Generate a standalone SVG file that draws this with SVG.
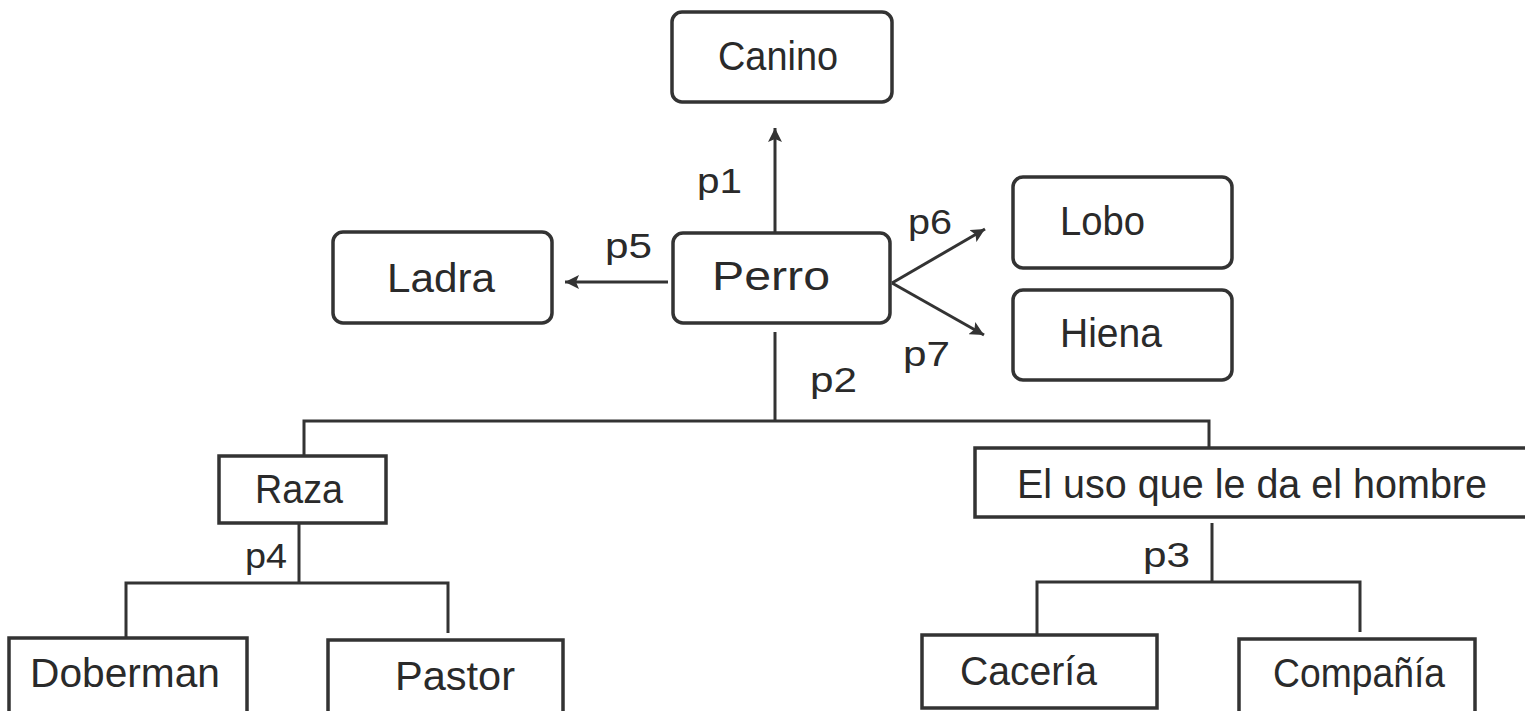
<svg xmlns="http://www.w3.org/2000/svg" width="1525" height="711" viewBox="0 0 1525 711">
<style>
.box{fill:#fff;stroke:#333;stroke-width:3.5}
.t{font-family:"Liberation Sans",Arial,sans-serif;font-size:40px;fill:#2a2a2a}
.lbl{font-family:"Liberation Sans",Arial,sans-serif;font-size:35px;fill:#2a2a2a}
.c{fill:none;stroke:#333;stroke-width:3}
</style>
<defs>
<marker id="ah" viewBox="0 0 14 14" refX="14" refY="7" markerWidth="14" markerHeight="14" markerUnits="userSpaceOnUse" orient="auto">
<path d="M0,0 L14,7 L0,14 L3,7 z" fill="#333"/>
</marker>
</defs>
<rect width="1525" height="711" fill="#fff"/>
<g id="connectors">
<line class="c" x1="775" y1="233" x2="775" y2="128" marker-end="url(#ah)"/>
<line class="c" x1="668" y1="282" x2="565" y2="282" marker-end="url(#ah)"/>
<line class="c" x1="892" y1="283" x2="985" y2="229" marker-end="url(#ah)"/>
<line class="c" x1="892" y1="283" x2="984" y2="335" marker-end="url(#ah)"/>
<polyline class="c" points="775,332 775,421"/>
<polyline class="c" points="304,456 304,421 1209,421 1209,448"/>
<polyline class="c" points="299,523 299,583"/>
<polyline class="c" points="126,638 126,583 448,583 448,633"/>
<polyline class="c" points="1212,523 1212,582"/>
<polyline class="c" points="1037,635 1037,582 1360,582 1360,632"/>
<text class="lbl" x="697" y="193" textLength="45" lengthAdjust="spacingAndGlyphs">p1</text>
<text class="lbl" x="605" y="258" textLength="47" lengthAdjust="spacingAndGlyphs">p5</text>
<text class="lbl" x="908" y="234" textLength="44" lengthAdjust="spacingAndGlyphs">p6</text>
<text class="lbl" x="903" y="366" textLength="47" lengthAdjust="spacingAndGlyphs">p7</text>
<text class="lbl" x="810" y="392" textLength="47" lengthAdjust="spacingAndGlyphs">p2</text>
<text class="lbl" x="245" y="568" textLength="42" lengthAdjust="spacingAndGlyphs">p4</text>
<text class="lbl" x="1143" y="567" textLength="47" lengthAdjust="spacingAndGlyphs">p3</text>
</g>
<g id="canino">
<rect class="box" x="672" y="12" width="220" height="90" rx="10"/>
<text class="t" x="718" y="70" textLength="120" lengthAdjust="spacingAndGlyphs">Canino</text>
</g>
<g id="perro">
<rect class="box" x="673" y="233" width="217" height="90" rx="10"/>
<text class="t" x="712" y="290" textLength="118" lengthAdjust="spacingAndGlyphs">Perro</text>
</g>
<g id="ladra">
<rect class="box" x="333" y="232" width="219" height="91" rx="10"/>
<text class="t" x="387" y="292" textLength="108" lengthAdjust="spacingAndGlyphs">Ladra</text>
</g>
<g id="lobo">
<rect class="box" x="1013" y="177" width="219" height="91" rx="10"/>
<text class="t" x="1060" y="235" textLength="85" lengthAdjust="spacingAndGlyphs">Lobo</text>
</g>
<g id="hiena">
<rect class="box" x="1013" y="290" width="219" height="90" rx="10"/>
<text class="t" x="1060" y="347" textLength="102" lengthAdjust="spacingAndGlyphs">Hiena</text>
</g>
<g id="raza">
<rect class="box" x="219" y="456" width="167" height="67"/>
<text class="t" x="255" y="503" textLength="88" lengthAdjust="spacingAndGlyphs">Raza</text>
</g>
<g id="uso">
<rect class="box" x="975" y="448" width="570" height="69"/>
<text class="t" x="1017" y="498" textLength="470" lengthAdjust="spacingAndGlyphs">El uso que le da el hombre</text>
</g>
<g id="doberman">
<rect class="box" x="9" y="638" width="238" height="90"/>
<text class="t" x="30" y="687" textLength="190" lengthAdjust="spacingAndGlyphs">Doberman</text>
</g>
<g id="pastor">
<rect class="box" x="328" y="640" width="235" height="90"/>
<text class="t" x="395" y="690" textLength="120" lengthAdjust="spacingAndGlyphs">Pastor</text>
</g>
<g id="caceria">
<rect class="box" x="922" y="635" width="235" height="73"/>
<text class="t" x="960" y="685" textLength="137" lengthAdjust="spacingAndGlyphs">Cacería</text>
</g>
<g id="compania">
<rect class="box" x="1239" y="639" width="236" height="90"/>
<text class="t" x="1273" y="687" textLength="172" lengthAdjust="spacingAndGlyphs">Compañía</text>
</g>
</svg>
